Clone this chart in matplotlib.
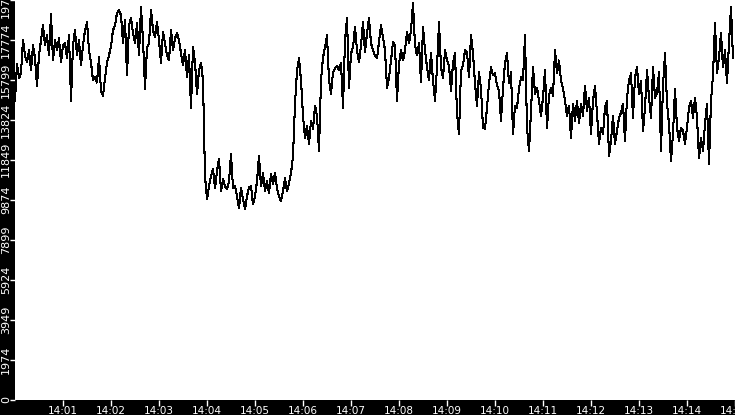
import matplotlib
matplotlib.use("Agg")
import matplotlib.pyplot as plt
import matplotlib.dates as mdates
import numpy as np
import pandas as pd

# readings, one every 2.5 s starting 14:00:00
part1 = [14770, 16610, 15870, 16170, 17760, 17010, 16660, 17260, 16270, 17510,
         16860, 15520, 17010, 17760, 18500, 17510, 18010, 17010, 19050, 16760,
         17760, 17260, 17860, 16660, 17510, 17610, 16860, 18010, 14770, 17510,
         18260, 17010, 17760, 16510, 17510, 18260, 18650, 17260, 16660, 15770]
part2 = [15920, 15670, 16910, 15270, 15020, 15870, 16660, 17010, 17460, 18260,
         18500, 19100, 19250, 19000, 17610, 18750, 16020, 18500, 18850, 18110,
         17610, 18600, 17010, 19400, 17760, 15370, 17410, 17610, 19250, 18260,
         17910, 18650, 17760, 16610, 18160, 17610, 17010, 16760, 18260, 17260,
         17860]
part3 = [18110, 17760, 17110, 16510, 17260, 15920, 17010, 14430, 17410, 16660,
         15120, 16270, 16660, 15770, 11040, 9900, 10540, 11040, 11390, 10450,
         11290, 11890, 10300, 10890, 10540, 10400, 10790, 12140, 10450, 10540,
         10050, 9450, 10450, 9900, 9400, 10050, 10490, 10540, 9650]
part4 = [10050, 10790, 12040, 10540, 11190, 10300, 10790, 10200, 11140, 10650,
         11190, 10450, 10050, 9800, 10300, 10940, 10300, 10690, 11190, 12040,
         14620, 16270, 16860, 15770, 14030, 12930, 13530, 12640, 13780, 13380,
         14530, 14030, 12290, 15770, 16910, 17410, 18010, 15770, 15120, 16170,
         16370]
part5 = [16510, 16270, 16660, 14430, 17760, 18850, 15420, 17110, 17410, 18410,
         17260, 16660, 17510, 18650, 17160, 18110, 18850, 17610, 17260, 17010,
         16860, 17660, 18500, 17910, 17260, 15420, 15920, 16760, 17660, 17510,
         14770, 16610, 17260, 16760, 17260, 18160, 17610, 18260, 19600, 17510]
part6 = [17010, 17610, 15670, 18410, 17260, 16420, 15770, 17110, 15770, 14770,
         16420, 18650, 16420, 15870, 17260, 16760, 16510, 15270, 16610, 17110,
         14130, 13130, 16270, 16510, 17260, 17160, 15920, 18010, 17110, 15620,
         14530, 16170, 15370, 13430, 13380, 14430, 15620, 16420, 16020, 16120]
part7 = [15520, 15270, 13780, 15370, 16660, 17110, 15620, 16170, 13130, 14530,
         14430, 15370, 15920, 15770, 18010, 13430, 12290, 14280, 16420, 15120,
         15420, 14770, 14030, 14920, 16270, 13430, 15020, 15420, 15020, 17260,
         16120, 16760, 15770, 15370, 14770, 14030, 14530, 12930, 14620, 13780]
part8 = [14770, 13680, 14620, 14030, 15520, 14280, 14920, 13130, 14770, 15520,
         14130, 12640, 13430, 13130, 14430, 14770, 12040, 12780, 14030, 12640,
         13280, 13930, 14180, 14620, 12780, 14920, 15770, 16120, 13930, 15920,
         16420, 15120, 15770, 13280, 14430, 16270, 14920, 13930, 16420, 14920]
part9 = [15170, 16170, 12290, 15520, 17110, 14620, 13630, 11790, 13130, 15370,
         13430, 12780, 13430, 13280, 12640, 13430, 14430, 14770, 13930, 14920,
         13930, 11940, 12930, 12290, 13630, 14620, 11640, 14770, 16020, 18600,
         16120, 16910, 18110, 16420, 17260, 15620, 17610, 19400, 16860]

values = part1 + part2 + part3 + part4 + part5 + part6 + part7 + part8 + part9

y_max = 19749
y_tick_labels = ["0", "1974", "3949", "5924", "7899", "9874",
                 "11849", "13824", "15799", "17774", "19749"]

start = pd.Timestamp("2024-01-01 14:00:00")
times = pd.date_range(start, periods=len(values), freq="2500ms")

fig = plt.figure(figsize=(7.35, 4.15), dpi=100, facecolor="black")
ax = fig.add_axes([15 / 735, 15.5 / 415, 720 / 735, 399.5 / 415])
ax.set_facecolor("white")

ax.plot(times, values, color="black", linewidth=0.75, antialiased=False)

ax.set_xlim(start, start + pd.Timedelta(minutes=15))
ax.set_ylim(0, y_max)

ax.xaxis.set_major_locator(mdates.MinuteLocator(byminute=range(1, 16)))
ax.xaxis.set_major_formatter(mdates.DateFormatter("%H:%M"))
ax.set_yticks(np.linspace(0, y_max, 11), y_tick_labels, rotation=90, va="center")

ax.tick_params(colors="white", width=1, direction="out")
ax.tick_params(axis="x", length=4.5, labelsize=7.5, pad=0.5)
ax.tick_params(axis="y", length=3.5, labelsize=8, pad=-0.5)
for s in ax.spines.values():
    s.set_visible(False)

fig.savefig("out.png", dpi=100, facecolor="black")
